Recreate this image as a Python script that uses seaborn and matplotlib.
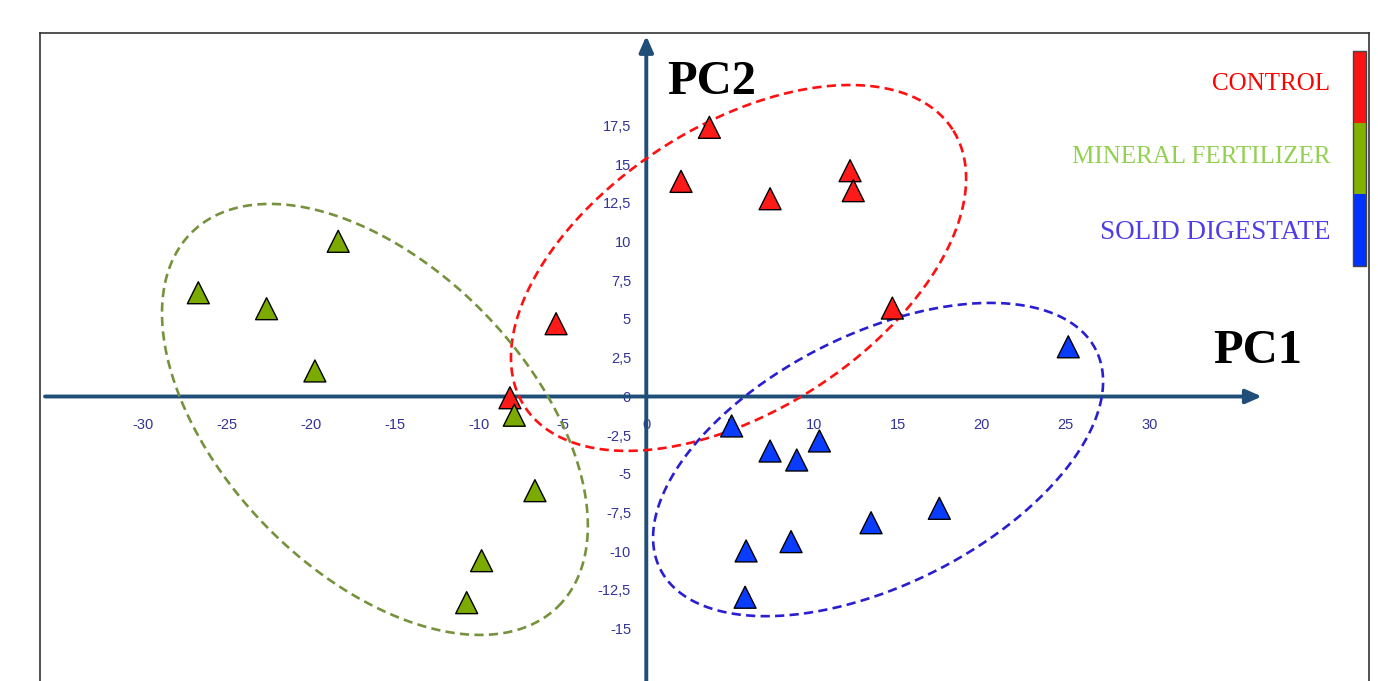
import numpy as np
import pandas as pd
import matplotlib
matplotlib.use('Agg')
import matplotlib.pyplot as plt
from matplotlib.colors import ListedColormap
import matplotlib.colorbar as mcolorbar
import seaborn as sns

# ==========================================
# Data
# ==========================================
control_pc1 = [3.76, 2.07, 7.38, 12.15, 12.34, 14.67, -5.38, -8.13]
control_pc2 = [17.38, 13.89, 12.77, 14.58, 13.29, 5.71, 4.70, -0.08]

mineral_pc1 = [-18.37, -26.71, -22.64, -19.76, -7.87, -6.64, -9.82, -10.71]
mineral_pc2 = [10.02, 6.70, 5.67, 1.65, -1.21, -6.08, -10.60, -13.31]

digestate_pc1 = [25.16, 5.09, 7.38, 8.97, 10.32, 13.40, 17.47, 8.63, 5.95, 5.89]
digestate_pc2 = [3.21, -1.90, -3.52, -4.10, -2.87, -8.15, -7.22, -9.37, -9.97, -12.96]

groups = ['CONTROL', 'MINERAL FERTILIZER', 'SOLID DIGESTATE']

x_ticks = [-30, -25, -20, -15, -10, -5, 0, 5, 10, 15, 20, 25, 30]
y_ticks = [17.5, 15, 12.5, 10, 7.5, 5, 2.5, 0, -2.5, -5, -7.5, -10, -12.5, -15]

# group ellipses: centre (data), semi axes (x units), screen angle
ell_centre = {'CONTROL': (5.50, 8.30), 'MINERAL FERTILIZER': (-16.18, -1.48), 'SOLID DIGESTATE': (13.82, -4.07)}
ell_axes = {'CONTROL': (15.2, 8.49), 'MINERAL FERTILIZER': (15.61, 9.09), 'SOLID DIGESTATE': (14.54, 7.47)}
ell_angle = {'CONTROL': 32.9, 'MINERAL FERTILIZER': -45.7, 'SOLID DIGESTATE': 26.7}

# ==========================================
# Styles
# ==========================================
marker_colors = {'CONTROL': '#FF1A1A', 'MINERAL FERTILIZER': '#7BAA00', 'SOLID DIGESTATE': '#0A3CFF'}
ellipse_colors = {'CONTROL': '#FF1010', 'MINERAL FERTILIZER': '#76923C', 'SOLID DIGESTATE': '#2A1FD0'}
label_colors = {'CONTROL': '#FF0000', 'MINERAL FERTILIZER': '#92D050', 'SOLID DIGESTATE': '#503CE6'}
AXIS_COLOR = '#1F4E79'
TICK_COLOR = '#333399'

W, H = 1378, 681

df = pd.DataFrame({
    'PC1': control_pc1 + mineral_pc1 + digestate_pc1,
    'PC2': control_pc2 + mineral_pc2 + digestate_pc2,
    'Group': ['CONTROL'] * len(control_pc1) + ['MINERAL FERTILIZER'] * len(mineral_pc1)
             + ['SOLID DIGESTATE'] * len(digestate_pc1),
})

sns.set_style('white')
plt.rcParams['font.family'] = ['Liberation Sans', 'DejaVu Sans']

fig = plt.figure(figsize=(W / 100, H / 100), dpi=100)
ax = fig.add_axes([40 / W, -9 / H, 1329 / W, 657 / H])
ax.set_xlim(-36.15, 43.09)
ax.set_ylim(-18.95, 23.47)
ax.set_xticks([])
ax.set_yticks([])
for s in ax.spines.values():
    s.set_color('#333333')
    s.set_linewidth(1.2)

# axes arrows
arrow = dict(arrowstyle='-|>,head_length=0.95,head_width=0.42', color=AXIS_COLOR,
             lw=2.8, shrinkA=0, shrinkB=0, mutation_scale=10)
ax.annotate('', xy=(36.7, 0), xytext=(-35.85, 0), arrowprops=arrow, zorder=2)
ax.annotate('', xy=(0, 23.28), xytext=(0, -18.95), arrowprops=arrow, zorder=2)

# tick labels
for v in x_ticks:
    ax.annotate(f'{v:g}', (v, 0), xytext=(0, -20.5), textcoords='offset points',
                ha='center', va='center', fontsize=10.5, color=TICK_COLOR, zorder=1)
for v in y_ticks:
    ax.annotate(f'{v:g}'.replace('.', ','), (0, v), xytext=(-11, -1), textcoords='offset points',
                ha='right', va='center', fontsize=10.5, color=TICK_COLOR, zorder=1)

# ellipses drawn in screen proportions
fig.canvas.draw()
p0 = ax.transData.transform((0, 0))
p1 = ax.transData.transform((1, 1))
sx, sy = p1 - p0
t = np.linspace(0, 2 * np.pi, 400)
for g in groups:
    cx, cy = ell_centre[g]
    a, b = ell_axes[g]
    phi = np.deg2rad(ell_angle[g])
    u, v = a * np.cos(t), b * np.sin(t)
    ex = cx + u * np.cos(phi) - v * np.sin(phi)
    ey = cy + (u * np.sin(phi) + v * np.cos(phi)) * sx / sy
    ax.plot(ex, ey, color=ellipse_colors[g], lw=1.9, ls=(0, (3.5, 2)), zorder=3)

sns.scatterplot(data=df, x='PC1', y='PC2', hue='Group', palette=marker_colors,
                marker='^', s=250, edgecolor='black', linewidth=1, legend=False,
                ax=ax, zorder=5)
ax.set_xlabel('')
ax.set_ylabel('')

# axis titles
serif = ['Liberation Serif', 'DejaVu Serif']
fig.text(667 / W, (H - 94) / H, 'PC2', family=serif, fontweight='bold', fontsize=35,
         color='black', ha='left', va='baseline')
fig.text(1213 / W, (H - 363) / H, 'PC1', family=serif, fontweight='bold', fontsize=35,
         color='black', ha='left', va='baseline')

# group legend
label_base = {'CONTROL': 90, 'MINERAL FERTILIZER': 163, 'SOLID DIGESTATE': 239}
label_size = {'CONTROL': 18, 'MINERAL FERTILIZER': 18, 'SOLID DIGESTATE': 19.5}
for g in groups:
    fig.text(1330 / W, (H - label_base[g]) / H, g, family=serif, fontsize=label_size[g],
             color=label_colors[g], ha='right', va='baseline')

cax = fig.add_axes([1353 / W, (H - 266) / H, 13 / W, 215 / H])
cmap = ListedColormap(['#0032FF', '#82B000', '#FA1414'])
cb = mcolorbar.ColorbarBase(cax, cmap=cmap, orientation='vertical')
cb.set_ticks([])
cb.outline.set_edgecolor('#444444')
cb.outline.set_linewidth(1)

fig.savefig('out.png', dpi=100)
